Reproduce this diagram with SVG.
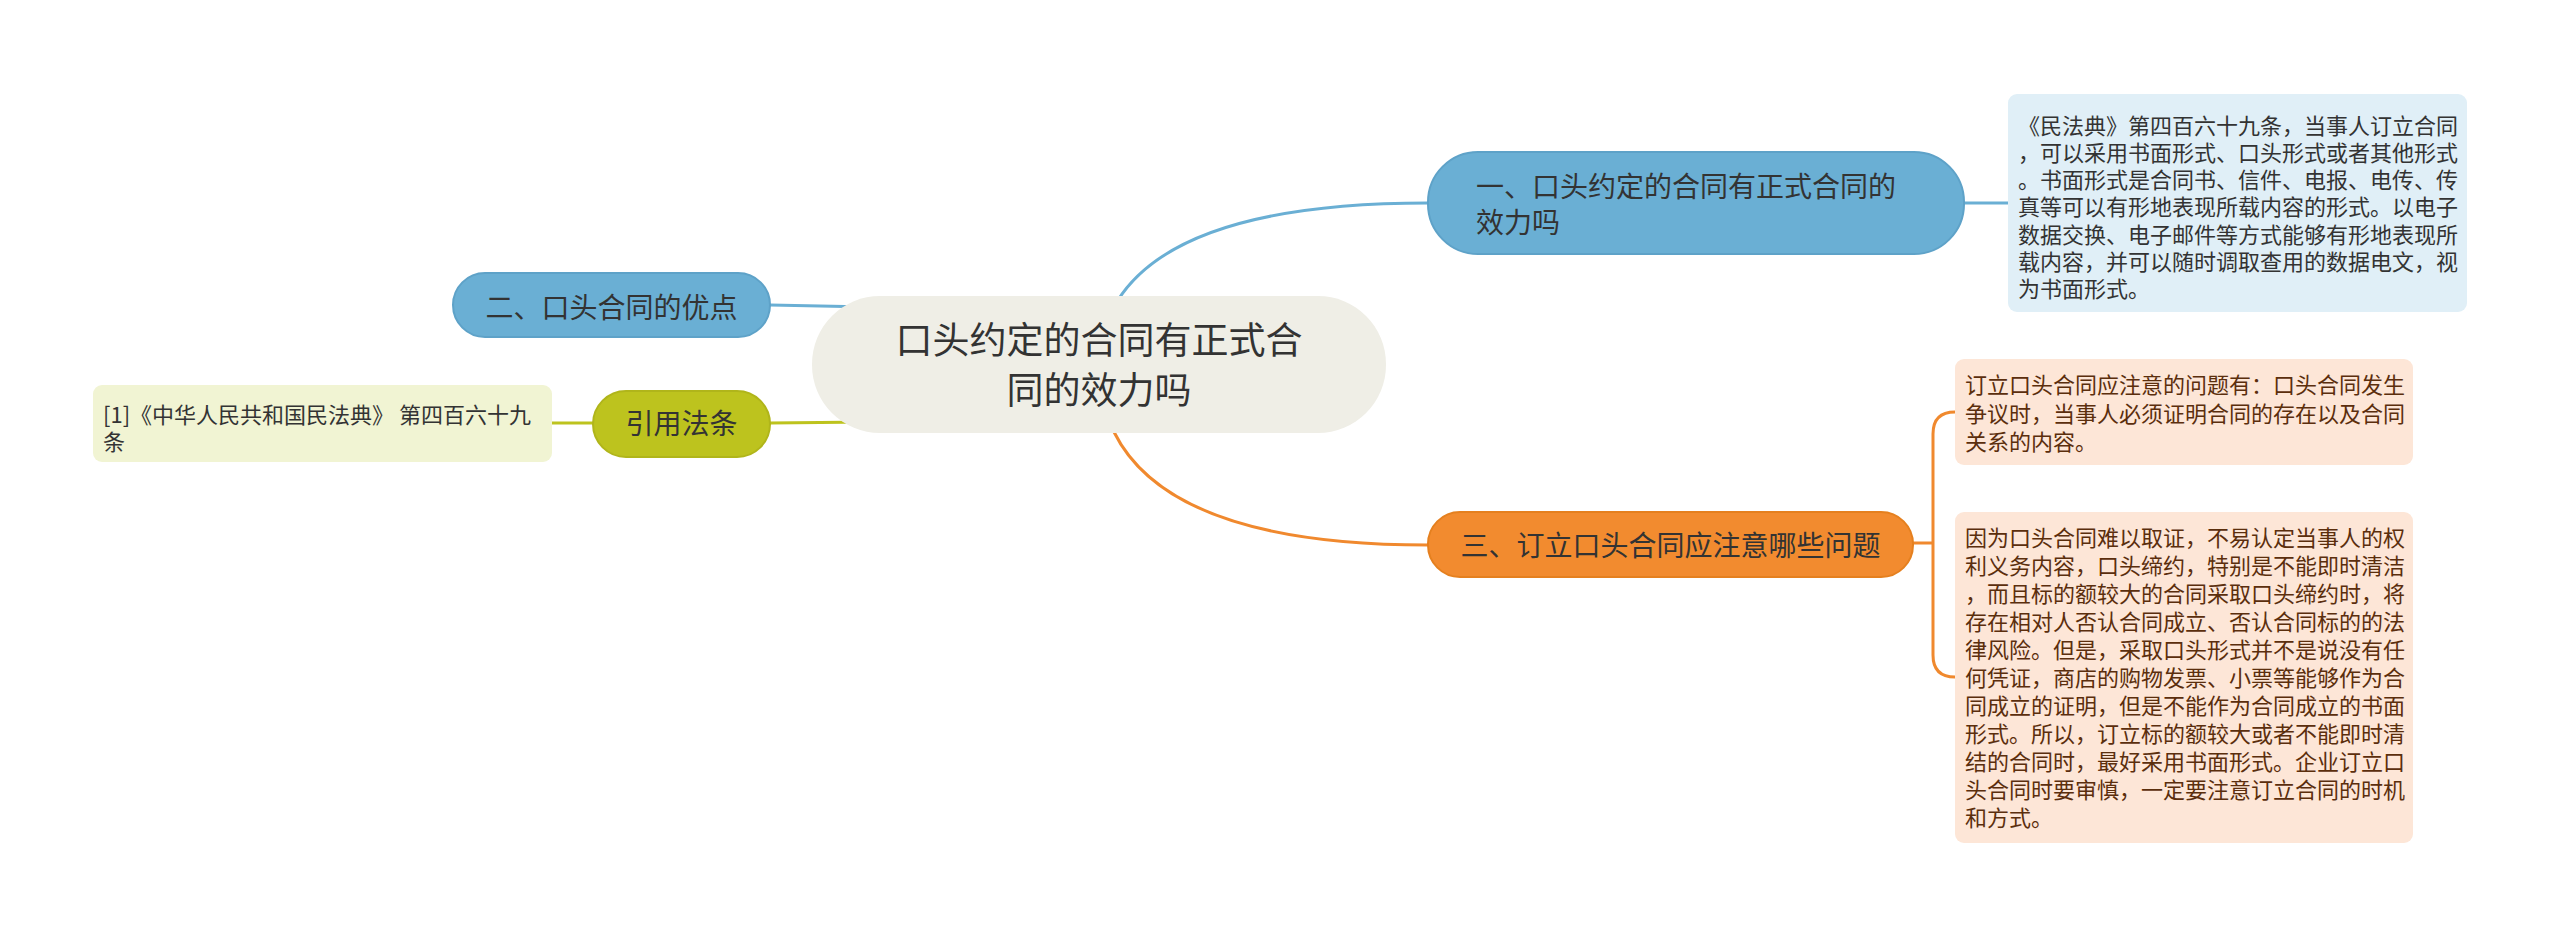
<svg xmlns="http://www.w3.org/2000/svg" width="2560" height="937" viewBox="0 0 2560 937">
<style>
text{font-family:"Noto Sans CJK SC","Noto Sans",sans-serif;fill:#333333}
.n28{font-size:28px}
.t22{font-size:22px}
.brown{fill:#5b2e0d}
.blue{fill:#6aafd4;stroke:#5ea2c8;stroke-width:2}
.orange{fill:#f28b2f;stroke:#e5801f;stroke-width:2}
.olive{fill:#bdc31e;stroke:#b0b51a;stroke-width:2}
.c{fill:none;stroke-width:3;stroke-linecap:round}
</style>
<rect width="2560" height="937" fill="#ffffff"/>
<g id="connectors">
<path class="c" stroke="#6aafd4" d="M1118 300 Q1180 203 1428 203"/>
<path class="c" stroke="#6aafd4" d="M770 305 L870 307"/>
<path class="c" stroke="#bdc31e" d="M770 423 L870 422"/>
<path class="c" stroke="#bdc31e" d="M552 423 L593 423"/>
<path class="c" stroke="#6aafd4" d="M1964 203 L2008 203"/>
<path class="c" stroke="#f0892e" d="M1114 432 Q1170 545 1428 545"/>
<path class="c" stroke="#f0892e" d="M1913 543 H1933 M1955 412 Q1933 412 1933 434 V655 Q1933 677 1955 677"/>
</g>
<g id="central">
<rect x="812" y="296" width="574" height="137" rx="68" fill="#efeee6"/>
<text font-size="37" text-anchor="middle"><tspan x="1099" y="353.5">口头约定的合同有正式合</tspan><tspan x="1099" y="403.5">同的效力吗</tspan></text>
</g>
<g id="node1">
<rect class="blue" x="1428" y="152" width="536" height="102" rx="50"/>
<text class="n28"><tspan x="1476" y="197">一、口头约定的合同有正式合同的</tspan><tspan x="1476" y="233">效力吗</tspan></text>
</g>
<g id="node1-detail">
<rect x="2008" y="94" width="459" height="218" rx="9" fill="#e0eff7"/>
<text class="t22"><tspan x="2018" y="133.5">《民法典》第四百六十九条，当事人订立合同</tspan><tspan x="2018" y="160.8">，可以采用书面形式、口头形式或者其他形式</tspan><tspan x="2018" y="188.1">。书面形式是合同书、信件、电报、电传、传</tspan><tspan x="2018" y="215.4">真等可以有形地表现所载内容的形式。以电子</tspan><tspan x="2018" y="242.7">数据交换、电子邮件等方式能够有形地表现所</tspan><tspan x="2018" y="270">载内容，并可以随时调取查用的数据电文，视</tspan><tspan x="2018" y="297.3">为书面形式。</tspan></text>
</g>
<g id="node2">
<rect class="blue" x="453" y="273" width="317" height="64" rx="32"/>
<text class="n28" x="611.5" y="317.5" text-anchor="middle">二、口头合同的优点</text>
</g>
<g id="node-cite">
<rect class="olive" x="593" y="391" width="177" height="66" rx="33"/>
<text class="n28" x="681.5" y="433.5" text-anchor="middle">引用法条</text>
</g>
<g id="cite-detail">
<rect x="93" y="385" width="459" height="77" rx="9" fill="#f1f4d3"/>
<text class="t22"><tspan x="103" y="423.4">[1]《中华人民共和国民法典》 第四百六十九</tspan><tspan x="103" y="450.4">条</tspan></text>
</g>
<g id="node3">
<rect class="orange" x="1428" y="512" width="485" height="65" rx="32"/>
<text class="n28" x="1670.5" y="555.5" text-anchor="middle">三、订立口头合同应注意哪些问题</text>
</g>
<g id="node3-detail-a">
<rect x="1955" y="359" width="458" height="106" rx="9" fill="#fde6d7"/>
<text class="t22 brown"><tspan x="1965" y="393.4">订立口头合同应注意的问题有：口头合同发生</tspan><tspan x="1965" y="421.7">争议时，当事人必须证明合同的存在以及合同</tspan><tspan x="1965" y="450">关系的内容。</tspan></text>
</g>
<g id="node3-detail-b">
<rect x="1955" y="512" width="458" height="331" rx="9" fill="#fde6d7"/>
<text class="t22 brown"><tspan x="1965" y="546.4">因为口头合同难以取证，不易认定当事人的权</tspan><tspan x="1965" y="574.4">利义务内容，口头缔约，特别是不能即时清洁</tspan><tspan x="1965" y="602.4">，而且标的额较大的合同采取口头缔约时，将</tspan><tspan x="1965" y="630.4">存在相对人否认合同成立、否认合同标的的法</tspan><tspan x="1965" y="658.4">律风险。但是，采取口头形式并不是说没有任</tspan><tspan x="1965" y="686.4">何凭证，商店的购物发票、小票等能够作为合</tspan><tspan x="1965" y="714.4">同成立的证明，但是不能作为合同成立的书面</tspan><tspan x="1965" y="742.4">形式。所以，订立标的额较大或者不能即时清</tspan><tspan x="1965" y="770.4">结的合同时，最好采用书面形式。企业订立口</tspan><tspan x="1965" y="798.4">头合同时要审慎，一定要注意订立合同的时机</tspan><tspan x="1965" y="826.4">和方式。</tspan></text>
</g>
</svg>
